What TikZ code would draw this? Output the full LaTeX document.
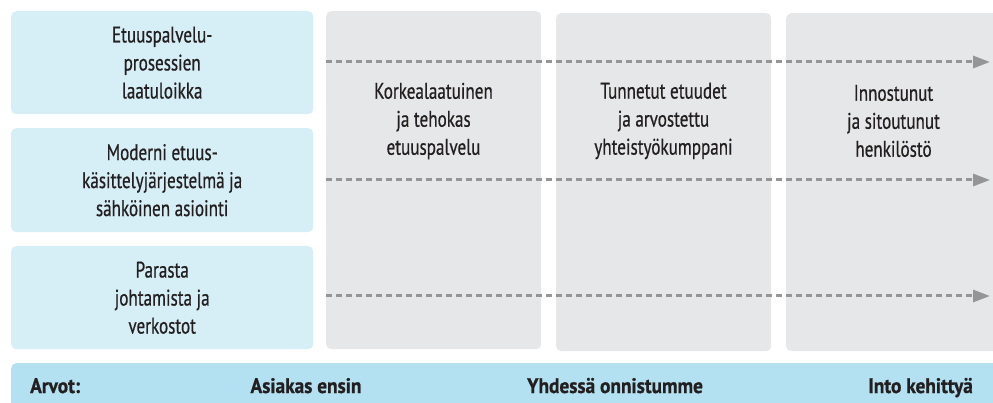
\documentclass[tikz,border=0pt]{standalone}
\usepackage{fontspec}
\setmainfont[FakeStretch=0.76,FakeBold=0.6]{PT Sans}
\newfontfamily\barfont[FakeStretch=0.92,FakeBold=0.8]{PT Sans}
\usetikzlibrary{arrows.meta}
\definecolor{leftblue}{HTML}{D6EEF6}
\definecolor{boxgray}{HTML}{E6E7E8}
\definecolor{barblue}{HTML}{B3E1F1}
\definecolor{dashgray}{HTML}{959595}
\definecolor{txt}{HTML}{231F20}
\begin{document}
\begin{tikzpicture}[x=1pt,y=-1pt,
  leftbox/.style={fill=leftblue, rounded corners=5pt, minimum width=302pt, inner sep=0pt, anchor=north west, align=center, text=txt, font=\fontsize{22.5}{28}\selectfont},
  graybox/.style={fill=boxgray, rounded corners=5pt, minimum width=215pt, minimum height=338pt, inner sep=0pt, anchor=north west},
  graytext/.style={align=center, text=txt, font=\fontsize{22.5}{28}\selectfont, inner sep=0pt},
  bartext/.style={text=txt, font=\barfont\bfseries\fontsize{21}{24}\selectfont, inner sep=0pt},
  flow/.style={draw=dashgray, line width=3pt, dash pattern=on 6pt off 4pt, -{Triangle[length=17pt,width=12pt,fill=dashgray]}}
]
\useasboundingbox (0,0) rectangle (993,403);
\clip (0,0) rectangle (993,403);
% left boxes
\node[leftbox, minimum height=103pt] (l1) at (11,11) {Etuuspalvelu-\\prosessien\\laatuloikka};
\node[leftbox, minimum height=104pt] (l2) at (11,128) {Moderni etuus-\\käsittelyjärjestelmä ja\\sähköinen asiointi};
\node[leftbox, minimum height=103pt] (l3) at (11,246) {Parasta\\johtamista ja\\verkostot};
% gray boxes
\node[graybox] (g1) at (326,11) {};
\node[graybox] (g2) at (556,13) {};
\node[graybox] (g3) at (786,13) {};
\node[graytext] (t1) at (433.5,121) {Korkealaatuinen\\ja tehokas\\etuuspalvelu};
\node[graytext] (t2) at (663.5,121) {Tunnetut etuudet\\ja arvostettu\\yhteistyökumppani};
\node[graytext] (t3) at (893.5,121) {Innostunut\\ja sitoutunut\\henkilöstö};
% bottom bar
\node[fill=barblue, rounded corners=5pt, minimum width=1000pt, minimum height=60pt, inner sep=0pt, anchor=north west] (bar) at (11,363) {};
\node[bartext, anchor=base west] (v0) at (30,393) {Arvot:};
\node[bartext, anchor=base] (v1) at (306,393) {Asiakas ensin};
\node[bartext, anchor=base] (v2) at (615,393) {Yhdessä onnistumme};
\node[bartext, anchor=base east] (v3) at (973,393) {Into kehittyä};
% dashed arrows
\coordinate (s1) at (326,62);
\coordinate (e1) at (990,62);
\coordinate (s2) at (326,180);
\coordinate (e2) at (990,180);
\coordinate (s3) at (326,296);
\coordinate (e3) at (990,296);
\draw[flow] (s1) -- (e1);
\draw[flow] (s2) -- (e2);
\draw[flow] (s3) -- (e3);
\end{tikzpicture}
\end{document}
